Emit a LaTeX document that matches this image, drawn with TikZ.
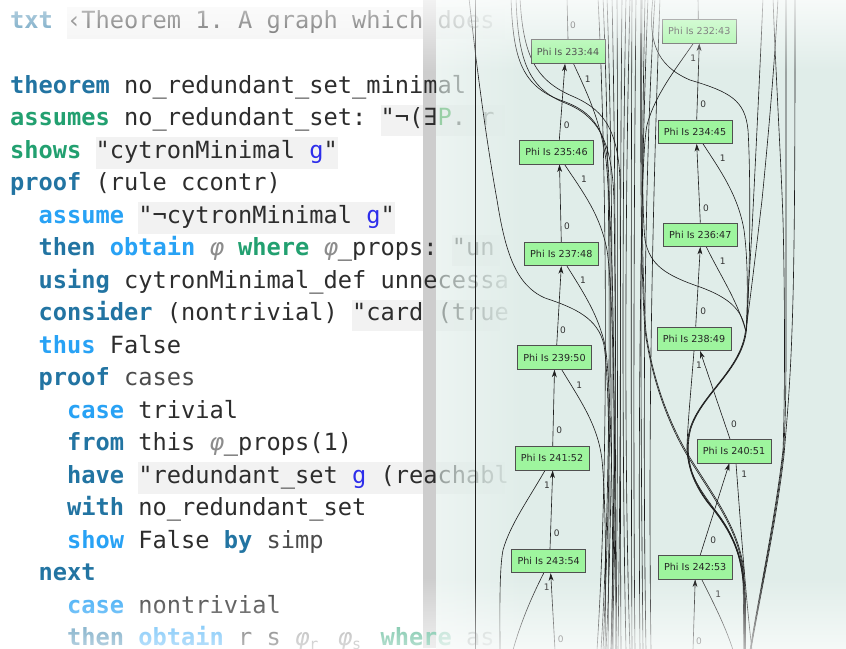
\documentclass[tikz,border=0pt]{standalone}
\usepackage{fontspec}
\setmainfont{DejaVu Sans}
\setmonofont{DejaVu Sans Mono}
\usetikzlibrary{arrows.meta,fadings}

\definecolor{kwone}{RGB}{34,116,162}
\definecolor{kwtwo}{RGB}{34,160,112}
\definecolor{kwthree}{RGB}{40,162,245}
\definecolor{freevar}{RGB}{45,45,235}
\definecolor{boundvar}{RGB}{40,160,60}
\definecolor{plain}{RGB}{45,45,45}
\definecolor{methgrey}{RGB}{76,76,76}
\definecolor{skol}{RGB}{140,140,140}
\definecolor{strbg}{RGB}{242,242,242}
\definecolor{mint}{RGB}{224,237,233}
\definecolor{stripgrey}{RGB}{205,205,205}
\definecolor{phigreen}{RGB}{158,245,158}
\definecolor{nodeedge}{RGB}{80,80,80}
\definecolor{wirecol}{RGB}{30,30,30}

\newcommand\codefont{\ttfamily\fontsize{23.67}{28}\selectfont\frenchspacing}
\newcommand\nodefont{\fontsize{9.6}{11}\selectfont}
\newcommand\labelfont{\fontsize{9}{10}\selectfont}
\newcommand\kwA[1]{{\color{kwone}\bfseries #1}}
\newcommand\kwB[1]{{\color{kwtwo}\bfseries #1}}
\newcommand\kwC[1]{{\color{kwthree}\bfseries #1}}
\newcommand\fvar[1]{{\color{freevar}#1}}
\newcommand\bvar[1]{{\color{boundvar}#1}}
\newcommand\meth[1]{{\color{methgrey}#1}}
\newcommand\sk{{\color{skol}\itshape φ}}
\newcommand\subidx[1]{\makebox[14.25pt][l]{\raisebox{-4pt}{\color{skol}\fontsize{15}{15}\selectfont #1}}}

\tikzfading[name=fadedown, top color=transparent!0, bottom color=transparent!100]
\tikzfading[name=fadeup, top color=transparent!100, bottom color=transparent!0]
\tikzfading[name=fadein, left color=transparent!55, right color=transparent!0]

\pgfdeclarelayer{back}
\pgfdeclarelayer{wires}
\pgfdeclarelayer{front}
\pgfsetlayers{back,wires,main,front}

\begin{document}
\begin{tikzpicture}[x=1pt,y=-1pt,
  wire/.style={draw=wirecol, line width=0.62pt},
  arr/.style={wire, -{Stealth[length=7.5pt,width=4.8pt,inset=2.2pt]}},
  phinode/.style={draw=nodeedge, line width=0.8pt, fill=phigreen,
    minimum width=74pt, minimum height=23.5pt, inner sep=0pt,
    font=\nodefont, text=black!85},
  elabel/.style={font=\labelfont, text=black!80, inner sep=0pt},
  codeline/.style={anchor=base west, inner sep=0pt, font=\codefont, text=plain}]

\useasboundingbox (0,0) rectangle (846,648);

% ---------------- editor: background, string boxes, text ----------------
\begin{pgfonlayer}{back}
\fill[white] (0,0) rectangle (846,648);

\fill[strbg] (67,7) rectangle (505,38.5);
\fill[strbg] (380.5,104.5) rectangle (505,136);
\fill[strbg] (95.5,137) rectangle (337.75,168.5);
\fill[strbg] (138.25,202) rectangle (394.75,233.5);
\fill[strbg] (451.75,234.5) rectangle (500,266);
\fill[strbg] (352,299.5) rectangle (500,331);
\fill[strbg] (138.25,462) rectangle (505,493.5);

\fill[stripgrey] (423,0) rectangle (436,648);

\node[codeline] (c0)  at (10,28)    {\kwA{txt} ‹Theorem 1. A graph which does};
\node[codeline] (c2)  at (10,93)    {\kwA{theorem} no\_redundant\_set\_minimal};
\node[codeline] (c3)  at (10,125.5) {\kwB{assumes} no\_redundant\_set: "¬(∃\bvar{P}. r};
\node[codeline] (c4)  at (10,158)   {\kwB{shows} "cytronMinimal \fvar{g}"};
\node[codeline] (c5)  at (10,190.5) {\kwA{proof} (rule ccontr)};
\node[codeline] (c6)  at (38.5,223) {\kwC{assume} "¬cytronMinimal \fvar{g}"};
\node[codeline] (c7)  at (38.5,255.5) {\kwA{then} \kwC{obtain} \sk{} \kwB{where} \sk\_props: "un};
\node[codeline] (c8)  at (38.5,288) {\kwA{using} cytronMinimal\_def unnecessa};
\node[codeline] (c9)  at (38.5,320.5) {\kwA{consider} (nontrivial) "card (true};
\node[codeline] (c10) at (38.5,353) {\kwC{thus} False};
\node[codeline] (c11) at (38.5,385.5) {\kwA{proof} \meth{cases}};
\node[codeline] (c12) at (67,418)   {\kwC{case} trivial};
\node[codeline] (c13) at (67,450.5) {\kwA{from} this \sk\_props(1)};
\node[codeline] (c14) at (67,483)   {\kwA{have} "redundant\_set \fvar{g} (reachabl};
\node[codeline] (c15) at (67,515.5) {\kwA{with} no\_redundant\_set};
\node[codeline] (c16) at (67,548)   {\kwC{show} False \kwA{by} \meth{simp}};
\node[codeline] (c17) at (38.5,580.5) {\kwA{next}};
\node[codeline] (c18) at (67,613)   {\kwC{case} nontrivial};
\node[codeline] (c19) at (67,645.5) {\kwA{then} \kwC{obtain} r s \sk\subidx{r} \sk\subidx{s} \kwB{where} as};

% ---------------- graph panel ----------------
\begin{scope}
  \clip (436,-5) rectangle (851,653);
  \fill[mint, path fading=fadein] (406,-5) rectangle (526,653);
\end{scope}
\fill[mint] (525,-5) rectangle (851,653);
\end{pgfonlayer}

% ---------------- nodes ----------------
\node[phinode] (L1) at (568,51.5)    {Phi Is 233:44};
\node[phinode] (L2) at (556.5,152.3) {Phi Is 235:46};
\node[phinode] (L3) at (561.3,254)   {Phi Is 237:48};
\node[phinode] (L4) at (554.5,357.5) {Phi Is 239:50};
\node[phinode] (L5) at (552,458.3)   {Phi Is 241:52};
\node[phinode] (L6) at (548.7,561)   {Phi Is 243:54};
\node[phinode] (R1) at (699.3,31.3)  {Phi Is 232:43};
\node[phinode] (R2) at (695,131.7)   {Phi Is 234:45};
\node[phinode] (R3) at (700.3,234.7) {Phi Is 236:47};
\node[phinode] (R4) at (694,338.7)   {Phi Is 238:49};
\node[phinode] (R5) at (734,451.2)   {Phi Is 240:51};
\node[phinode] (R6) at (695.2,567.3) {Phi Is 242:53};

\coordinate (Ltop) at (567,-2);
\coordinate (Lbot) at (555,650);
\coordinate (Rtop) at (698,-2);
\coordinate (Rbot) at (693,650);

\begin{pgfonlayer}{wires}
% long wires on the left side of the panel
\draw[wire] (475,-2) -- (475,650);
\draw[wire] (469,-2) .. controls (478,80) and (488,150) .. (497,200) .. controls (505,250) and (515,285) .. (545,298) .. controls (575,308) and (598,318) .. (604,345) .. controls (609,380) and (610,450) .. (608,650);
\draw[wire] (511,-2) .. controls (513,55) and (520,85) .. (560,100) .. controls (595,112) and (607,130) .. (609,180) .. controls (611,300) and (612,450) .. (603,650);
\draw[wire] (516,-2) .. controls (518,60) and (528,88) .. (565,103) .. controls (598,116) and (612,140) .. (614,200) .. controls (616,350) and (617,500) .. (612,650);
\draw[wire] (520,-2) .. controls (523,55) and (535,80) .. (572,96) .. controls (600,108) and (618,125) .. (620,180) .. controls (621,350) and (620,500) .. (618,650);

% middle bundle
\draw[wire] (598,-2) .. controls (606,150) and (610,450) .. (597,650);
\draw[wire] (603,-2) .. controls (610,160) and (613,460) .. (601,650);
\draw[wire] (607,-2) .. controls (613,170) and (615,470) .. (606,650);
\draw[wire] (612,-2) .. controls (616,180) and (617,460) .. (611,650);
\draw[wire] (617,-2) .. controls (618,200) and (618,450) .. (616,650);
\draw[wire] (622,-2) .. controls (620,200) and (620,450) .. (621,650);
\draw[wire] (626,-2) .. controls (622,200) and (622,460) .. (626,650);
\draw[wire] (630,-2) .. controls (625,200) and (624,470) .. (630,650);

% second bundle, left of the right column
\draw[wire] (632,-2) .. controls (631,200) and (631,450) .. (632,650);
\draw[wire] (636,-2) .. controls (634,200) and (633,450) .. (635,650);
\draw[wire] (648,-2) .. controls (640,200) and (638,450) .. (640,650);
\draw[wire] (655,-2) .. controls (645,150) and (642,400) .. (646,650);
\draw[wire] (660,-2) .. controls (652,220) and (648,430) .. (651,650);

% left column: 0-edges
\draw[wire] (L1.north) -- (Ltop);
\draw[arr] ([xshift=2.8pt]L2.north) -- ([xshift=-3pt]L1.south);
\draw[arr] (L3.north) -- ([xshift=3pt]L2.south);
\draw[arr] ([xshift=2.2pt]L4.north) -- (L3.south);
\draw[arr] ([xshift=0.7pt]L5.north) -- (L4.south);
\draw[arr] ([xshift=1.3pt]L6.north) -- ([xshift=0.7pt]L5.south);
\draw[arr] (Lbot) -- ([xshift=2pt]L6.south);

% left column: 1-edges
\draw[wire] ([xshift=5.5pt]L1.south) .. controls (588,95) and (600,120) .. (606,160) .. controls (612,220) and (614,330) .. (614,420) .. controls (614,520) and (612,600) .. (611,650);
\draw[wire] ([xshift=8pt]L2.south) .. controls (585,195) and (600,215) .. (607,250) .. controls (613,290) and (615,400) .. (616,650);
\draw[wire] ([xshift=5.7pt]L3.south) .. controls (585,295) and (598,315) .. (605,345) .. controls (611,380) and (613,500) .. (613,650);
\draw[wire] ([xshift=7.2pt]L4.south) .. controls (580,400) and (598,425) .. (602,460) .. controls (606,500) and (606,580) .. (605,650);
\draw[wire] ([xshift=-7pt]L5.south) .. controls (528,500) and (510,525) .. (503,550) .. controls (499,570) and (500,620) .. (500,650);
\draw[wire] ([xshift=-5pt]L6.south) .. controls (530,600) and (520,625) .. (513,650);

% right column: 0-edges
\draw[wire] ([xshift=-1pt]R1.north) -- (Rtop);
\draw[arr] ([xshift=1.7pt]R2.north) -- (R1.south);
\draw[arr] (R3.north) -- ([xshift=1.7pt]R2.south);
\draw[arr] ([xshift=1.7pt]R4.north) -- (R3.south);
\draw[arr] ([xshift=-4pt]R5.north) -- ([xshift=6pt]R4.south);
\draw[arr] ([xshift=5pt]R6.north) -- ([xshift=-4.7pt]R5.south);
\draw[arr] (Rbot) -- (R6.south);

% right column: 1-edges and the wires that join them
\draw[wire] ([xshift=-6pt]R1.south) .. controls (675,70) and (655,95) .. (647,125) .. controls (642,150) and (641,250) .. (641,330) .. controls (641,450) and (642,550) .. (643,650);
\draw[wire] ([xshift=8pt]R2.south) .. controls (720,170) and (738,195) .. (744,230) .. controls (748,260) and (748,300) .. (746,330);
\draw[wire] ([xshift=6pt]R3.south) .. controls (720,275) and (737,300) .. (745.5,330);
\draw[wire] (653,-2) .. controls (648,40) and (655,65) .. (690,80) .. controls (730,92) and (745,100) .. (748,130) .. controls (751,180) and (750,280) .. (746.5,330);
\draw[wire] (645,-2) .. controls (643,100) and (641,200) .. (645,240) .. controls (650,265) and (665,275) .. (700,287) .. controls (730,298) and (742,310) .. (745.5,330);
\draw[wire] (763,-2) .. controls (760,70) and (756,150) .. (752,230) .. controls (749,280) and (747,310) .. (746.5,330);
\draw[wire] (778,-2) .. controls (775,60) and (768,140) .. (762,200) .. controls (755,260) and (750,300) .. (746,330);
\foreach \o in {-0.5,0,0.5} {
  \draw[wire] ({746+(\o)},330) .. controls ({742+(\o)},370) and ({700+(\o)},395) .. ({690+(\o)},430) .. controls ({684+(\o)},455) and ({690+(\o)},480) .. ({710+(\o)},505) .. controls ({735+(\o)},535) and ({744+(\o)},560) .. ({745+(\o)},600) -- ({745+(\o)},650);
}
\draw[wire] (R4.south) .. controls (691,390) and (688,420) .. (687,445) .. controls (686,470) and (700,490) .. (715,510) .. controls (735,535) and (743,560) .. (744,600) -- (744,650);
\draw[wire] (641,-2) .. controls (640,150) and (641,280) .. (645,330) .. controls (650,370) and (665,420) .. (690,460) .. controls (715,500) and (738,530) .. (743,570) -- (744,650);
\draw[wire] (642,-2) .. controls (641,150) and (642,280) .. (645.8,330) .. controls (650.8,370) and (665.8,419) .. (690.8,459) .. controls (715.8,499) and (738.8,529) .. (743.8,570) -- (744.8,650);
\draw[wire] ([xshift=2pt]R5.south) .. controls (741,530) and (746,600) .. (752,650);
\draw[wire] ([xshift=6.5pt]R6.south) .. controls (712,600) and (725,625) .. (733,650);

% far right wires
\draw[wire] (773,-2) .. controls (776,80) and (781,160) .. (783,220) .. controls (785,300) and (785,400) .. (783,450) .. controls (775,520) and (758,600) .. (750,650);
\draw[wire] (786,-2) .. controls (786,100) and (786,250) .. (786,350) .. controls (786,400) and (785,430) .. (783.5,452) .. controls (775.5,522) and (758.5,600) .. (750.5,650);
\draw[wire] (795,-2) .. controls (795,120) and (795,250) .. (792,330) .. controls (790,390) and (786,430) .. (784,455) .. controls (776,525) and (759,600) .. (751,650);
\end{pgfonlayer}

% ---------------- edge labels ----------------
\node[elabel] (z1) at (573,25)      {0};
\node[elabel] (z2) at (566.7,125.7) {0};
\node[elabel] (z3) at (567,226.7)   {0};
\node[elabel] (z4) at (563,330)     {0};
\node[elabel] (z5) at (559.3,430.7) {0};
\node[elabel] (z6) at (556.7,533.3) {0};
\node[elabel] (z7) at (560.7,639.3) {0};
\node[elabel] (o1) at (587.7,79.3)  {1};
\node[elabel] (o2) at (584,179)     {1};
\node[elabel] (o3) at (583,280.7)   {1};
\node[elabel] (o4) at (579.3,385)   {1};
\node[elabel] (o5) at (547,485)     {1};
\node[elabel] (o6) at (546.7,587.7) {1};
\node[elabel] (rz1) at (703.3,104.3) {0};
\node[elabel] (rz2) at (706,208.3)   {0};
\node[elabel] (rz3) at (703.3,311)   {0};
\node[elabel] (rz4) at (734,424.3)   {0};
\node[elabel] (rz5) at (713.3,540)   {0};
\node[elabel] (rz6) at (699,641.7)   {0};
\node[elabel] (ro1) at (693.3,58.3)  {1};
\node[elabel] (ro2) at (722.7,158.3) {1};
\node[elabel] (ro3) at (722.7,261.7) {1};
\node[elabel] (ro4) at (699,365.7)   {1};
\node[elabel] (ro5) at (744.3,474.3) {1};
\node[elabel] (ro6) at (718.3,594.3) {1};

% ---------------- soft white edges at top and bottom ----------------
\begin{pgfonlayer}{front}
\fill[white, path fading=fadedown] (-5,-24) rectangle (851,72);
\fill[white, fill opacity=0.9, path fading=fadeup] (-5,576) rectangle (851,672);
\end{pgfonlayer}
\end{tikzpicture}
\end{document}
